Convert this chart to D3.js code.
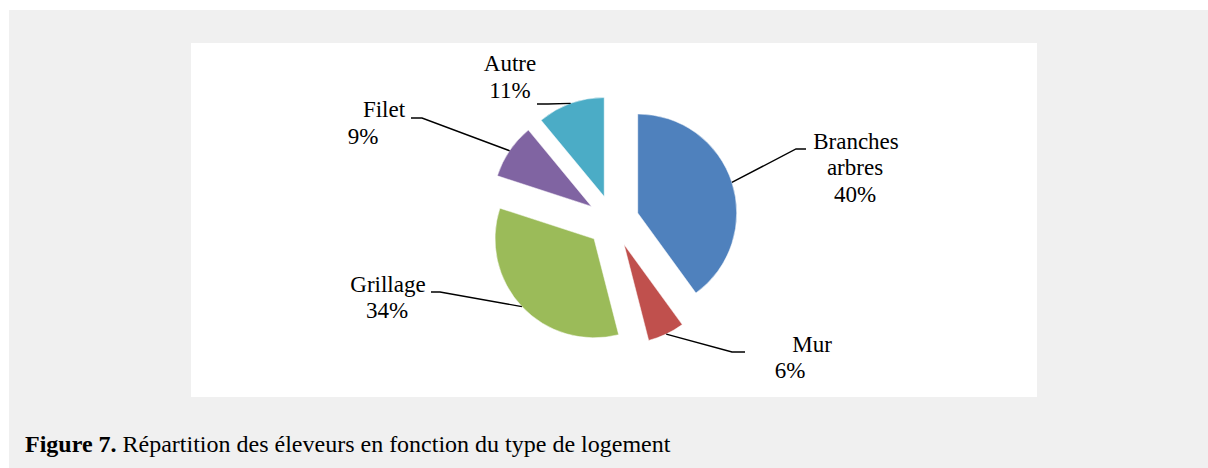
<!DOCTYPE html>
<html>
<head>
<meta charset="utf-8">
<script src="https://cdn.jsdelivr.net/npm/d3@7"></script>
<style>
  body { margin: 0; background: #fff; }
  svg text { font-family: "Liberation Serif", "Times New Roman", "DejaVu Serif", serif; fill: #000; }
</style>
</head>
<body>
<div id="chart"></div>
<script>
// data
var categories = ["Branches arbres", "Mur", "Grillage", "Filet", "Autre"]
var values = [40, 6, 34, 9, 11]
var colors = ["#4F81BD", "#C0504D", "#9BBB59", "#8064A2", "#4BACC6"]

// label layout (lines of text, their positions, leader elbows)
var labelLines = [
  [["Branches", 856, 149], ["arbres", 855, 175], ["40%", 855, 202]],
  [["Mur", 812, 352], ["6%", 790, 378]],
  [["Grillage", 388, 292], ["34%", 387, 318]],
  [["Filet", 384, 117], ["9%", 363, 144]],
  [["Autre", 510, 71], ["11%", 510, 98]]
]
var leaderElbow = [[796, 149], [732, 352], [440, 292], [422, 118], [548, 104]]
var leaderEnd = [[806, 149], [745, 352], [431, 292], [411, 118], [537, 104]]

var W = 1208, H = 468
var cx = 613, cy = 221, radius = 99, explode = 26

var svg = d3.select("#chart").append("svg")
  .attr("width", W)
  .attr("height", H)

// grey page and white plot area
svg.append("rect").attr("x", 9).attr("y", 10).attr("width", W - 9).attr("height", H - 10)
  .attr("fill", "#f0f0f0")
svg.append("rect").attr("x", 191).attr("y", 43).attr("width", 846).attr("height", 354)
  .attr("fill", "#ffffff")

var pie = d3.pie().sort(null).value(function(d) { return d })
var arcs = pie(values)
var arc = d3.arc().innerRadius(0).outerRadius(radius)

var pieG = svg.append("g").attr("transform", "translate(" + cx + "," + cy + ")")

function offset(d) {
  var a = (d.startAngle + d.endAngle) / 2
  return [explode * Math.sin(a), -explode * Math.cos(a)]
}

var slices = pieG.selectAll("g.slice").data(arcs).enter().append("g")
  .attr("class", "slice")
  .attr("transform", function(d) { var o = offset(d); return "translate(" + o[0] + "," + o[1] + ")" })

slices.append("path")
  .attr("d", arc)
  .attr("fill", function(d, i) { return colors[i] })
  .attr("stroke", "#fff")
  .attr("stroke-width", 0.5)

// leader lines
var lines = svg.append("g")
arcs.forEach(function(d, i) {
  var o = offset(d)
  var a = (d.startAngle + d.endAngle) / 2
  var sx = cx + o[0] + radius * Math.sin(a)
  var sy = cy + o[1] - radius * Math.cos(a)
  lines.append("polyline")
    .attr("points", [[sx, sy], leaderElbow[i], leaderEnd[i]].map(function(p) { return p.join(",") }).join(" "))
    .attr("fill", "none")
    .attr("stroke", "#000")
    .attr("stroke-width", 1.4)
})

// labels
var labels = svg.append("g")
labelLines.forEach(function(ls) {
  ls.forEach(function(l) {
    labels.append("text")
      .attr("x", l[1]).attr("y", l[2])
      .attr("text-anchor", "middle")
      .attr("font-family", "Liberation Serif, Times New Roman, serif")
      .attr("font-size", "23px")
      .text(l[0])
  })
})

// caption
var cap = svg.append("text").attr("x", 25).attr("y", 452)
  .attr("font-family", "Liberation Serif, Times New Roman, serif")
  .attr("font-size", "24px")
cap.append("tspan").attr("font-weight", "bold").text("Figure 7.")
cap.append("tspan").text(" Répartition des éleveurs en fonction du type de logement")
</script>
</body>
</html>
